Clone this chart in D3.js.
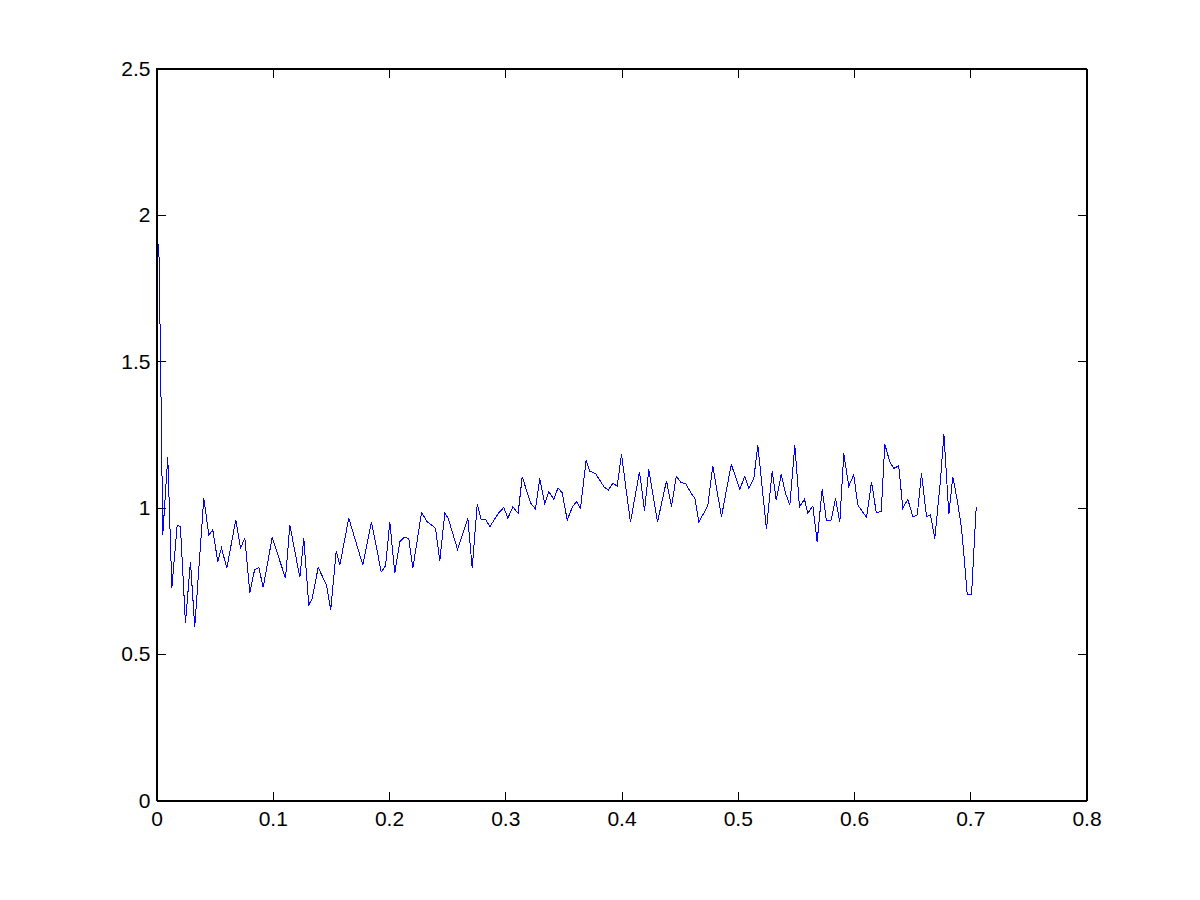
<!DOCTYPE html>
<html>
<head>
<meta charset="utf-8">
<script src="https://cdn.jsdelivr.net/npm/d3@7"></script>
<style>
  html, body { margin: 0; padding: 0; background: #fff; }
  svg text { font-family: "Liberation Sans", Arial, Helvetica, sans-serif; }
</style>
</head>
<body>
<div id="root"></div>
<script>
const w = 1200;
const h = 900;
const margin = { top: 68.5, bottom: 99.5, left: 156.5, right: 113.5 };

// tick values
const xTicks = [0, 0.1, 0.2, 0.3, 0.4, 0.5, 0.6, 0.7, 0.8];
const yTicks = [0, 0.5, 1, 1.5, 2, 2.5];

// the single blue series (x, y)
const xs = [
    0.0020, 0.0034, 0.0054, 0.0097, 0.0132, 0.0178, 0.0206, 0.0249, 0.0292, 0.0329,
    0.0407, 0.0450, 0.0484, 0.0527, 0.0559, 0.0605, 0.0682, 0.0723, 0.0760, 0.0803,
    0.0843, 0.0880, 0.0918, 0.0995, 0.1110, 0.1147, 0.1233, 0.1267, 0.1310, 0.1339,
    0.1391, 0.1462, 0.1499, 0.1546, 0.1577, 0.1654, 0.1775, 0.1849, 0.1933, 0.1970,
    0.2007, 0.2050, 0.2093, 0.2133, 0.2170, 0.2205, 0.2280, 0.2329, 0.2400, 0.2437,
    0.2480, 0.2509, 0.2589, 0.2678, 0.2716, 0.2759, 0.2793, 0.2830, 0.2867, 0.2945,
    0.2988, 0.3022, 0.3065, 0.3111, 0.3146, 0.3217, 0.3260, 0.3297, 0.3340, 0.3375,
    0.3418, 0.3454, 0.3490, 0.3533, 0.3576, 0.3613, 0.3647, 0.3696, 0.3727, 0.3776,
    0.3848, 0.3886, 0.3925, 0.3963, 0.4000, 0.4077, 0.4155, 0.4198, 0.4235, 0.4310,
    0.4387, 0.4430, 0.4471, 0.4514, 0.4551, 0.4600, 0.4631, 0.4665, 0.4742, 0.4785,
    0.4860, 0.4944, 0.5018, 0.5061, 0.5095, 0.5138, 0.5173, 0.5247, 0.5296, 0.5331,
    0.5374, 0.5411, 0.5448, 0.5491, 0.5531, 0.5574, 0.5603, 0.5646, 0.5683, 0.5726,
    0.5763, 0.5804, 0.5841, 0.5878, 0.5912, 0.5955, 0.5998, 0.6033, 0.6108, 0.6151,
    0.6191, 0.6234, 0.6265, 0.6308, 0.6342, 0.6385, 0.6420, 0.6463, 0.6506, 0.6544,
    0.6581, 0.6624, 0.6658, 0.6695, 0.6744, 0.6773, 0.6816, 0.6850, 0.6888, 0.6925,
    0.6959, 0.6974, 0.7011, 0.7051
];
const ys = [
    1.900, 1.530, 0.907, 1.174, 0.726, 0.940, 0.935, 0.606, 0.816, 0.593,
    1.033, 0.907, 0.924, 0.816, 0.862, 0.794, 0.958, 0.862, 0.896, 0.708,
    0.787, 0.796, 0.728, 0.898, 0.759, 0.941, 0.762, 0.895, 0.668, 0.690,
    0.796, 0.736, 0.651, 0.853, 0.804, 0.964, 0.804, 0.952, 0.781, 0.801,
    0.950, 0.778, 0.884, 0.899, 0.895, 0.793, 0.983, 0.952, 0.930, 0.819,
    0.981, 0.964, 0.858, 0.964, 0.793, 1.013, 0.958, 0.961, 0.935, 0.983,
    1.001, 0.964, 1.003, 0.981, 1.106, 1.017, 0.995, 1.100, 1.013, 1.055,
    1.029, 1.068, 1.051, 0.958, 1.001, 1.021, 0.998, 1.163, 1.125, 1.117,
    1.072, 1.060, 1.083, 1.074, 1.182, 0.950, 1.123, 0.990, 1.131, 0.952,
    1.092, 1.003, 1.108, 1.085, 1.083, 1.049, 1.032, 0.951, 1.006, 1.143,
    0.969, 1.148, 1.063, 1.108, 1.066, 1.100, 1.213, 0.926, 1.125, 1.026,
    1.114, 1.049, 1.009, 1.214, 1.003, 1.029, 0.981, 1.006, 0.884, 1.063,
    0.955, 0.958, 1.032, 0.951, 1.185, 1.074, 1.112, 1.009, 0.967, 1.089,
    0.984, 0.986, 1.217, 1.157, 1.134, 1.143, 0.998, 1.029, 0.969, 0.975,
    1.117, 0.969, 0.975, 0.895, 1.095, 1.252, 0.978, 1.106, 1.026, 0.930,
    0.776, 0.702, 0.702, 1.001
];

const data = xs.map((x, i) => ({ x: x, y: ys[i] }));

const svg = d3.select("#root")
    .append("svg")
    .attr("width", w)
    .attr("height", h)
    .style("display", "block");

svg.append("rect")
    .attr("width", w)
    .attr("height", h)
    .attr("fill", "#fff");

const xScale = d3.scaleLinear()
    .domain([0, 0.8])
    .range([margin.left, w - margin.right]);

const yScale = d3.scaleLinear()
    .domain([0, 2.5])
    .range([h - margin.bottom, margin.top]);

const fmt = d => String(d);
const tickLen = 9;

// bottom axis with labels, ticks pointing inward
svg.append("g")
    .attr("transform", "translate(0," + (h - margin.bottom) + ")")
    .call(d3.axisBottom(xScale).tickValues(xTicks).tickFormat(fmt)
        .tickSizeInner(-tickLen).tickSizeOuter(0).tickPadding(11));

// left axis with labels
svg.append("g")
    .attr("transform", "translate(" + margin.left + ",0)")
    .call(d3.axisLeft(yScale).tickValues(yTicks).tickFormat(fmt)
        .tickSizeInner(-tickLen).tickSizeOuter(0).tickPadding(6));

// top and right ticks, no labels
svg.append("g")
    .attr("transform", "translate(0," + margin.top + ")")
    .call(d3.axisTop(xScale).tickValues(xTicks).tickFormat("")
        .tickSizeInner(-tickLen).tickSizeOuter(0));

svg.append("g")
    .attr("transform", "translate(" + (w - margin.right) + ",0)")
    .call(d3.axisRight(yScale).tickValues(yTicks).tickFormat("")
        .tickSizeInner(-tickLen).tickSizeOuter(0));

svg.selectAll(".tick line, .domain")
    .attr("stroke", "#000")
    .attr("shape-rendering", "crispEdges");
svg.selectAll(".tick text")
    .attr("fill", "#000")
    .style("font-size", "21px");

// box
svg.append("rect")
    .attr("x", margin.left)
    .attr("y", margin.top)
    .attr("width", w - margin.left - margin.right)
    .attr("height", h - margin.top - margin.bottom)
    .attr("fill", "none")
    .attr("stroke", "#000")
    .attr("shape-rendering", "crispEdges");

// data line
const line = d3.line()
    .x(d => xScale(d.x))
    .y(d => yScale(d.y));

svg.append("path")
    .datum(data)
    .attr("d", line)
    .attr("fill", "none")
    .attr("stroke", "#0000ff")
    .attr("stroke-width", 1)
    .attr("shape-rendering", "crispEdges");
</script>
</body>
</html>
